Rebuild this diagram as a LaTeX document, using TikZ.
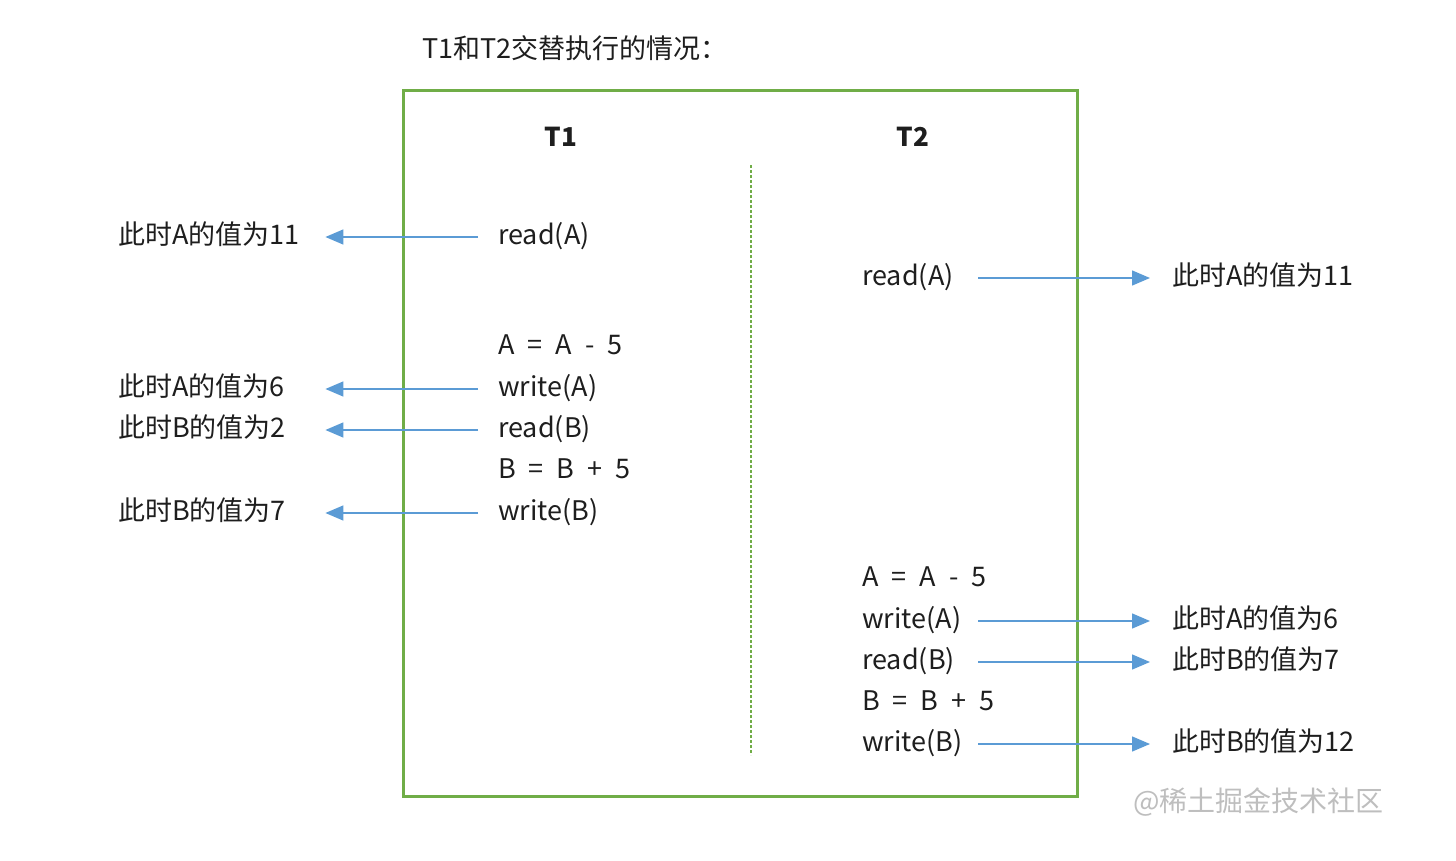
\documentclass[tikz,border=0pt]{standalone}
\usepackage{fontspec}
\setmainfont{Noto Sans CJK SC}
\usetikzlibrary{arrows.meta}
\definecolor{boxgreen}{RGB}{112,173,71}
\definecolor{arrblue}{RGB}{91,155,213}
\definecolor{txt}{RGB}{30,30,30}
\definecolor{wm}{RGB}{190,190,190}
\newcommand{\gp}{\hspace{13pt}}
\begin{document}
\begin{tikzpicture}[x=1pt,y=-1pt,
  every node/.style={text=txt,font=\fontsize{27}{31}\selectfont},
  code/.style={anchor=west,inner sep=0pt,text width=96pt,align=left,text height=20pt,text depth=6pt},
  expr/.style={anchor=west,inner sep=0pt,text height=20pt,text depth=6pt},
  llab/.style={anchor=west,inner sep=0pt,text width=197pt,align=left,text height=20pt,text depth=6pt},
  rlab/.style={anchor=west,inner sep=0pt,text height=20pt,text depth=6pt},
  head/.style={font=\fontsize{26}{30}\selectfont\bfseries,inner sep=0pt},
  arr/.style={draw=arrblue,line width=1.4pt,-{Triangle[length=18pt,width=15pt]}}
]
\useasboundingbox (0,0) rectangle (1456,860);
% title
\node[anchor=west,inner sep=0pt] (title) at (422,48) {T1和T2交替执行的情况：};
% frame
\node[draw=boxgreen,line width=3pt,minimum width=674pt,minimum height=706pt,inner sep=0pt,anchor=north west] (frame) at (402,89) {};
\coordinate (dtop) at (751,165);
\coordinate (dbot) at (751,755);
\draw[boxgreen,line width=1.2pt,dash pattern=on 3pt off 2pt] (dtop) -- (dbot);
% headers
\node[head] (h1) at (561,137) {T1};
\node[head] (h2) at (913,137) {T2};
% T1 column
\node[code] (a1) at (498,237) {read(A)};
\node[expr] (a2) at (498,347) {A\gp=\gp A\gp -\gp 5};
\node[code] (a3) at (498,389) {write(A)};
\node[code] (a4) at (498,430) {read(B)};
\node[expr] (a5) at (498,471) {B\gp=\gp B\gp +\gp 5};
\node[code] (a6) at (498,513) {write(B)};
% left labels
\node[llab] (l1) at (118,237) {此时A的值为11};
\node[llab] (l3) at (118,389) {此时A的值为6};
\node[llab] (l4) at (118,430) {此时B的值为2};
\node[llab] (l6) at (118,513) {此时B的值为7};
\draw[arr,shorten <=20pt,shorten >=10pt] (a1.west) -- (l1.east);
\draw[arr,shorten <=20pt,shorten >=10pt] (a3.west) -- (l3.east);
\draw[arr,shorten <=20pt,shorten >=10pt] (a4.west) -- (l4.east);
\draw[arr,shorten <=20pt,shorten >=10pt] (a6.west) -- (l6.east);
% T2 column
\node[code] (b1) at (862,278) {read(A)};
\node[expr] (b2) at (862,579) {A\gp=\gp A\gp -\gp 5};
\node[code] (b3) at (862,621) {write(A)};
\node[code] (b4) at (862,662) {read(B)};
\node[expr] (b5) at (862,703) {B\gp=\gp B\gp +\gp 5};
\node[code] (b6) at (862,744) {write(B)};
% right labels
\node[rlab] (r1) at (1172,278) {此时A的值为11};
\node[rlab] (r3) at (1172,621) {此时A的值为6};
\node[rlab] (r4) at (1172,662) {此时B的值为7};
\node[rlab] (r6) at (1172,744) {此时B的值为12};
\draw[arr,shorten <=20pt,shorten >=22pt] (b1.east) -- (r1.west);
\draw[arr,shorten <=20pt,shorten >=22pt] (b3.east) -- (r3.west);
\draw[arr,shorten <=20pt,shorten >=22pt] (b4.east) -- (r4.west);
\draw[arr,shorten <=20pt,shorten >=22pt] (b6.east) -- (r6.west);
% watermark
\node[anchor=west,inner sep=0pt,text=wm,font=\fontsize{28}{32}\selectfont] (wmk) at (1133,802) {@稀土掘金技术社区};
\end{tikzpicture}
\end{document}
